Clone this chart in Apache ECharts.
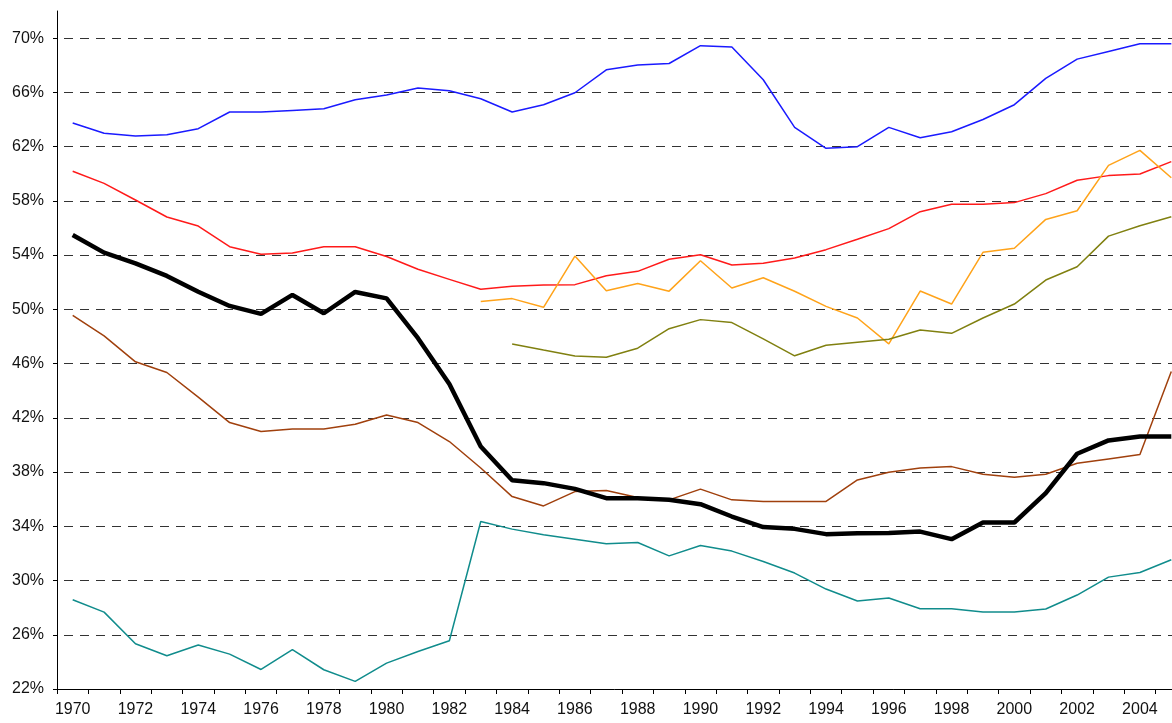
<!DOCTYPE html>
<html>
<head>
<meta charset="utf-8">
<script src="https://cdn.jsdelivr.net/npm/echarts@6/dist/echarts.min.js"></script>
<style>
html,body{margin:0;padding:0;background:#fff;overflow:hidden;}
#chart{width:1172px;height:723px;}
</style>
</head>
<body>
<div id="chart"></div>
<script>
const years = ['1970','1971','1972','1973','1974','1975','1976','1977','1978','1979','1980','1981','1982','1983','1984','1985','1986','1987','1988','1989','1990','1991','1992','1993','1994','1995','1996','1997','1998','1999','2000','2001','2002','2003','2004','2005'];

const blueSeries = [63.74,62.98,62.78,62.87,63.32,64.55,64.55,64.67,64.79,65.45,65.8,66.32,66.12,65.53,64.55,65.09,65.97,67.66,68.01,68.13,69.44,69.34,66.93,63.42,61.87,61.99,63.42,62.65,63.1,64.0,65.09,67.03,68.45,69.02,69.58,69.58];
const redSeries = [60.18,59.29,58.06,56.81,56.14,54.62,54.06,54.15,54.62,54.62,53.9,52.95,52.21,51.48,51.7,51.79,51.82,52.48,52.8,53.69,54.03,53.27,53.39,53.78,54.4,55.17,55.95,57.2,57.75,57.75,57.87,58.53,59.52,59.86,59.98,60.89];
const orangeSeries = [null,null,null,null,null,null,null,null,null,null,null,null,null,50.57,50.79,50.15,53.93,51.37,51.91,51.34,53.58,51.57,52.33,51.33,50.22,49.36,47.45,51.35,50.39,54.2,54.5,56.63,57.27,60.62,61.72,59.7];
const oliveSeries = [null,null,null,null,null,null,null,null,null,null,null,null,null,null,47.45,47.0,46.56,46.46,47.13,48.57,49.24,49.02,47.82,46.57,47.35,47.57,47.79,48.48,48.23,49.36,50.39,52.16,53.14,55.4,56.16,56.83];
const blackSeries = [55.48,54.18,53.39,52.46,51.3,50.25,49.66,51.06,49.71,51.28,50.81,47.87,44.5,39.88,37.4,37.18,36.76,36.07,36.07,35.95,35.63,34.72,33.94,33.81,33.42,33.49,33.51,33.61,33.05,34.28,34.28,36.44,39.35,40.33,40.62,40.62];
const brownSeries = [49.56,48.04,46.13,45.34,43.52,41.65,40.99,41.18,41.18,41.52,42.21,41.65,40.25,38.3,36.19,35.5,36.56,36.64,36.12,35.95,36.74,35.95,35.83,35.83,35.83,37.42,37.98,38.3,38.4,37.84,37.62,37.84,38.65,38.97,39.29,45.42];
const tealSeries = [28.58,27.67,25.34,24.45,25.24,24.57,23.44,24.9,23.42,22.56,23.91,24.77,25.56,34.35,33.79,33.37,33.05,32.71,32.8,31.82,32.58,32.17,31.4,30.55,29.37,28.49,28.71,27.92,27.92,27.67,27.67,27.9,28.93,30.25,30.59,31.53];

const yMin = 22, yMax = 72, yStep = 4;
const FONT = "'Liberation Sans', Arial, sans-serif";

function line(name, data, color, width, z) {
  return {
    name: name, type: 'line', data: data, showSymbol: false, symbol: 'none',
    lineStyle: { color: color, width: width }, itemStyle: { color: color },
    connectNulls: false, z: z, animation: false
  };
}

const chart = echarts.init(document.getElementById('chart'), null, { renderer: 'canvas' });
chart.setOption({
  backgroundColor: '#ffffff',
  animation: false,
  grid: { left: 57, width: 1130, top: 11, bottom: 34, containLabel: false, outerBoundsMode: 'none' },
  xAxis: {
    type: 'category',
    data: years,
    boundaryGap: true,
    axisLine: { show: true, lineStyle: { color: '#000', width: 1 } },
    axisTick: { show: true, interval: 0, length: 5, lineStyle: { color: '#000' } },
    axisLabel: { interval: 1, margin: 13, color: '#111', fontSize: 16, fontFamily: FONT },
    splitLine: { show: false }
  },
  yAxis: {
    type: 'value',
    min: yMin, max: yMax, interval: yStep,
    axisLine: { show: true, lineStyle: { color: '#000', width: 1 } },
    axisTick: { show: true, length: 4, lineStyle: { color: '#000' } },
    axisLabel: {
      showMaxLabel: false, margin: 13, color: '#111', fontSize: 16, fontFamily: FONT,
      formatter: function (v) { return v + '%'; }
    },
    splitLine: { show: true, showMinLine: false, showMaxLine: false, lineStyle: { color: '#333', width: 1, type: [9, 7], dashOffset: 9 } }
  },
  series: [
    line('blue', blueSeries, '#1a1aff', 1.5, 3),
    line('red', redSeries, '#ff1a1a', 1.5, 3),
    line('orange', orangeSeries, '#ffa31a', 1.5, 3),
    line('olive', oliveSeries, '#808010', 1.5, 3),
    line('brown', brownSeries, '#a0400d', 1.5, 3),
    line('teal', tealSeries, '#108c8c', 1.5, 3),
    line('black', blackSeries, '#000000', 4.5, 4)
  ]
});
</script>
</body>
</html>
